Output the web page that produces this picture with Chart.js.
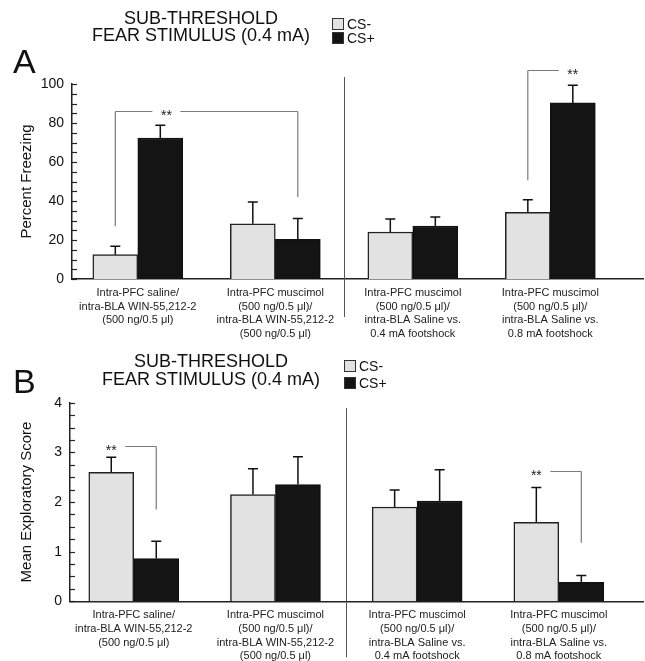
<!DOCTYPE html>
<html>
<head>
<meta charset="utf-8">
<script src="https://cdn.jsdelivr.net/npm/chart.js@4.4.1/dist/chart.umd.min.js"></script>
<style>
  body { margin: 0; background: #fff; font-family: "Liberation Sans", Arial, sans-serif; color: #111; }
  #wrap { position: relative; width: 645px; height: 661px; overflow: hidden; }
  .box { position: absolute; left: 0; width: 645px; }
  .letter { position: absolute; font-size: 34px; line-height: 34px; }
  .ttl { position: absolute; font-size: 18px; text-align: center; transform: translateX(-50%); white-space: nowrap; }
  .leg { position: absolute; font-size: 14px; }
  .leg div { display: flex; align-items: center; height: 14px; line-height: 14px; }
  .leg span.sw { width: 10px; height: 10px; border: 1px solid #333; margin-right: 3px; }
</style>
</head>
<body>
<div id="wrap">
  <div class="box" style="top:0;height:345px"><canvas id="chartA"></canvas></div>
  <div class="box" style="top:335px;height:326px"><canvas id="chartB"></canvas></div>

  <div class="letter" style="left:13px;top:44px">A</div>
  <div class="ttl" style="left:201px;top:10px;line-height:17px">SUB-THRESHOLD<br>FEAR STIMULUS (0.4 mA)</div>
  <div class="leg" style="left:332px;top:17px">
    <div><span class="sw" style="background:#e2e2e2"></span>CS-</div>
    <div><span class="sw" style="background:#141414"></span>CS+</div>
  </div>

  <div class="letter" style="left:13px;top:364px">B</div>
  <div class="ttl" style="left:211px;top:353px;line-height:17.5px">SUB-THRESHOLD<br>FEAR STIMULUS (0.4 mA)</div>
  <div class="leg" style="left:344px;top:357px">
    <div style="height:17px"><span class="sw" style="background:#e2e2e2"></span>CS-</div>
    <div style="height:17px"><span class="sw" style="background:#141414"></span>CS+</div>
  </div>
</div>
<script>
// categorias (etiquetas de grupo en varias lineas)
const groupLabels = [
  ["Intra-PFC saline/", "intra-BLA WIN-55,212-2", "(500 ng/0.5 μl)"],
  ["Intra-PFC muscimol", "(500 ng/0.5 μl)/", "intra-BLA WIN-55,212-2", "(500 ng/0.5 μl)"],
  ["Intra-PFC muscimol", "(500 ng/0.5 μl)/", "intra-BLA Saline vs.", "0.4 mA footshock"],
  ["Intra-PFC muscimol", "(500 ng/0.5 μl)/", "intra-BLA Saline vs.", "0.8 mA footshock"]
];

// Panel A - Percent Freezing
const freezeCsMinus = [12.5, 28.3, 24.1, 34.2];
const freezeCsMinusSem = [4.3, 11.2, 6.7, 6.5];
const freezeCsPlus = [72.3, 20.3, 27.2, 90.3];
const freezeCsPlusSem = [6.5, 10.7, 4.6, 9.0];

// Panel B - Mean Exploratory Score
const exploreCsMinus = [2.60, 2.15, 1.90, 1.59];
const exploreCsMinusSem = [0.30, 0.52, 0.34, 0.70];
const exploreCsPlus = [0.86, 2.35, 2.02, 0.38];
const exploreCsPlusSem = [0.35, 0.56, 0.63, 0.14];

// corchetes de significancia: [grupo, serie] de cada extremo
const freezeBrackets = [
  { from: [0, 0], to: [1, 1], top: 86.3, fromLeg: 27, toLeg: 42, star: 0.28 },
  { from: [3, 0], to: [3, 1], top: 107.2, fromLeg: 50.7, toLeg: null, star: 1 }
];
const exploreBrackets = [
  { from: [0, 0], to: [0, 1], top: 3.13, fromLeg: null, toLeg: 1.85, star: 0 },
  { from: [3, 0], to: [3, 1], top: 2.63, fromLeg: null, toLeg: 1.18, star: 0 }
];

const FONT = "'Liberation Sans', Arial, sans-serif";

const marksPlugin = {
  id: "panelMarks",
  afterDatasetsDraw(chart, args, opts) {
    const ctx = chart.ctx;
    const xs = chart.scales.x;
    const ys = chart.scales.y;
    const area = chart.chartArea;
    ctx.save();

    // ticks hacia adentro
    ctx.strokeStyle = "#222";
    ctx.lineWidth = 1.2;
    ys.ticks.forEach((t) => {
      const py = Math.round(ys.getPixelForValue(t.value)) + 0.5;
      ctx.beginPath();
      ctx.moveTo(area.left, py);
      ctx.lineTo(area.left + 5, py);
      ctx.stroke();
    });

    // barras de error (solo hacia arriba)
    ctx.strokeStyle = "#111";
    ctx.lineWidth = 1.5;
    chart.data.datasets.forEach((ds, i) => {
      chart.getDatasetMeta(i).data.forEach((bar, j) => {
        const top = ys.getPixelForValue(ds.data[j].y + ds.sem[j]);
        ctx.beginPath();
        ctx.moveTo(bar.x, bar.y);
        ctx.lineTo(bar.x, top);
        ctx.moveTo(bar.x - 5, top);
        ctx.lineTo(bar.x + 5, top);
        ctx.stroke();
      });
    });

    // linea separadora
    const sx = Math.round(xs.getPixelForValue(opts.separatorAt)) + 0.5;
    ctx.strokeStyle = "#555";
    ctx.lineWidth = 1;
    ctx.beginPath();
    ctx.moveTo(sx, ys.getPixelForValue(opts.separatorTop));
    ctx.lineTo(sx, area.bottom + opts.separatorBelow);
    ctx.stroke();

    // corchetes
    opts.brackets.forEach((b) => {
      const x1 = chart.getDatasetMeta(b.from[1]).data[b.from[0]].x;
      const x2 = chart.getDatasetMeta(b.to[1]).data[b.to[0]].x;
      const yt = Math.round(ys.getPixelForValue(b.top)) + 0.5;
      const xStar = x1 + b.star * (x2 - x1);
      const gap = 14;
      ctx.strokeStyle = "#7a7a7a";
      ctx.lineWidth = 1.2;
      ctx.beginPath();
      if (b.fromLeg !== null) {
        ctx.moveTo(x1, ys.getPixelForValue(b.fromLeg));
        ctx.lineTo(x1, yt);
      }
      if (xStar - gap > x1) {
        ctx.moveTo(x1, yt);
        ctx.lineTo(xStar - gap, yt);
      }
      if (xStar + gap < x2) {
        ctx.moveTo(xStar + gap, yt);
        ctx.lineTo(x2, yt);
      }
      if (b.toLeg !== null) {
        ctx.moveTo(x2, yt);
        ctx.lineTo(x2, ys.getPixelForValue(b.toLeg));
      }
      ctx.stroke();
      ctx.fillStyle = "#222";
      ctx.font = "14px " + FONT;
      ctx.textAlign = "center";
      ctx.textBaseline = "alphabetic";
      ctx.fillText("**", xStar, yt + 8);
    });

    ctx.restore();
  }
};

function makeDatasets(minus, minusSem, plus, plusSem) {
  return [
    {
      label: "CS-",
      data: minus.map((v, i) => ({ x: i, y: v })),
      sem: minusSem,
      backgroundColor: "#e2e2e2",
      borderColor: "#222",
      borderWidth: 1.5,
      barThickness: 45
    },
    {
      label: "CS+",
      data: plus.map((v, i) => ({ x: i, y: v })),
      sem: plusSem,
      backgroundColor: "#141414",
      borderColor: "#111",
      borderWidth: 1.5,
      barThickness: 45
    }
  ];
}

function makeChart(id, cfg) {
  return new Chart(document.getElementById(id), {
    type: "bar",
    data: { datasets: makeDatasets(cfg.minus, cfg.minusSem, cfg.plus, cfg.plusSem) },
    plugins: [marksPlugin],
    options: {
      responsive: true,
      maintainAspectRatio: false,
      animation: false,
      layout: { padding: { top: cfg.padTop, right: 2, left: 0, bottom: 0 } },
      plugins: {
        legend: { display: false },
        tooltip: { enabled: false },
        panelMarks: {
          brackets: cfg.brackets,
          separatorAt: 1.5,
          separatorTop: cfg.sepTop,
          separatorBelow: cfg.sepBelow
        }
      },
      scales: {
        x: {
          type: "linear",
          min: cfg.xMin,
          max: cfg.xMax,
          offset: false,
          grid: { display: false, drawTicks: false, offset: false },
          border: { display: true, color: "#222", width: 1.5 },
          afterBuildTicks: (s) => {
            s.ticks = groupLabels.map((_, i) => ({ value: i }));
          },
          afterFit: (s) => {
            s.height = cfg.xHeight;
          },
          ticks: {
            autoSkip: false,
            maxRotation: 0,
            padding: 7,
            color: "#222",
            font: { family: FONT, size: 11, lineHeight: 1.25 },
            callback: (v) => groupLabels[v]
          }
        },
        y: {
          min: 0,
          max: cfg.yMax,
          grid: { display: false, drawTicks: false },
          border: { display: true, color: "#222", width: 1.5 },
          afterFit: (s) => {
            s.width = cfg.yWidth;
          },
          ticks: {
            stepSize: cfg.step,
            autoSkip: false,
            padding: 8,
            color: "#111",
            font: { family: FONT, size: 14 },
            callback: (v) => (Math.abs(v / cfg.labelEvery - Math.round(v / cfg.labelEvery)) < 1e-6 ? v : "")
          },
          title: {
            display: true,
            text: cfg.yTitle,
            color: "#111",
            font: { family: FONT, size: 15 },
            padding: { top: 18, bottom: 0 }
          }
        }
      }
    }
  });
}

makeChart("chartA", {
  minus: freezeCsMinus, minusSem: freezeCsMinusSem,
  plus: freezeCsPlus, plusSem: freezeCsPlusSem,
  brackets: freezeBrackets,
  yMax: 100, step: 5, labelEvery: 20, yTitle: "Percent Freezing",
  padTop: 84, xHeight: 66, yWidth: 72,
  xMin: -0.4785, xMax: 3.674,
  sepTop: 103.6, sepBelow: 38
});

makeChart("chartB", {
  minus: exploreCsMinus, minusSem: exploreCsMinusSem,
  plus: exploreCsPlus, plusSem: exploreCsPlusSem,
  brackets: exploreBrackets,
  yMax: 4, step: 0.25, labelEvery: 1, yTitle: "Mean Exploratory Score",
  padTop: 67.7, xHeight: 59.7, yWidth: 70,
  xMin: -0.45, xMax: 3.594,
  sepTop: 3.89, sepBelow: 56
});
</script>
</body>
</html>
